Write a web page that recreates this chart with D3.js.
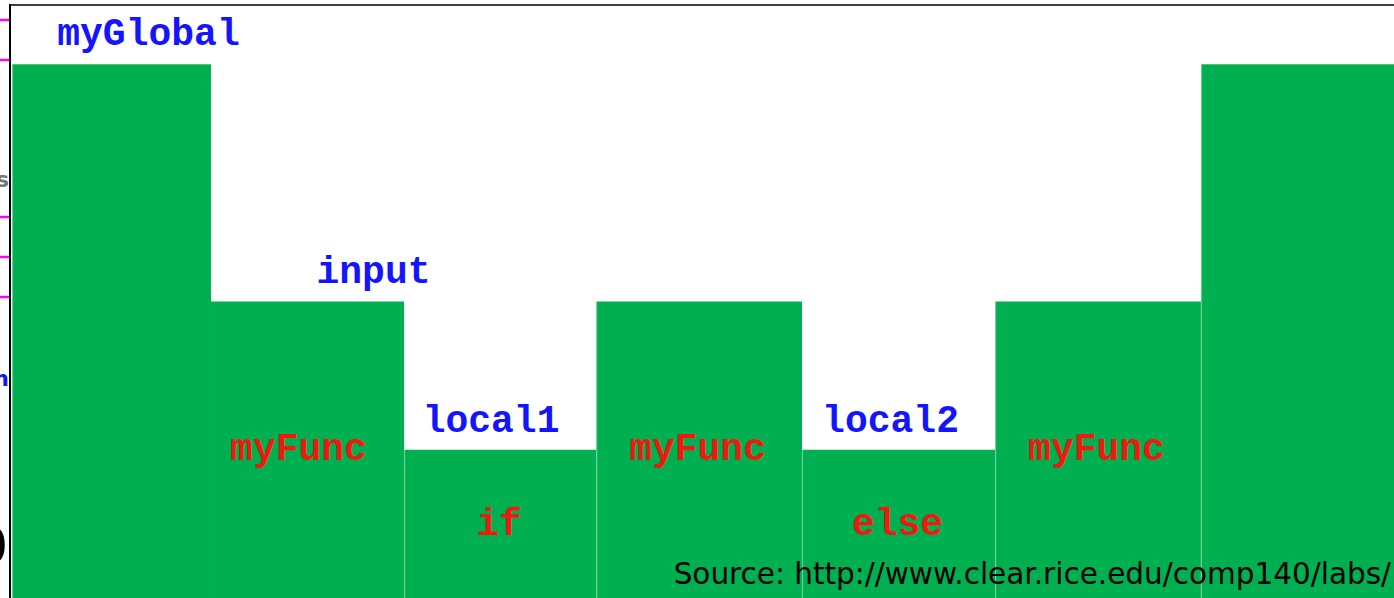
<!DOCTYPE html>
<html>
<head>
    <meta charset="utf-8">
    <script src="https://d3js.org/d3.v7.min.js"></script>
    <style>
        body { margin: 0; background: #fff; overflow: hidden; }
        svg { display: block; }
    </style>
</head>
<body>
    <svg id="chart"></svg>

    <script>
        // Scope blocks, left to right (nesting depth drawn as bar height)
        const columns = ["global", "myFunc", "if", "myFunc", "else", "myFunc", "global"];
        const colWidths = [1.01, 0.98, 0.975, 1.045, 0.98, 1.045, 0.98];
        const levels = [9, 5, 2.5, 5, 2.5, 5, 9];

        // Variable names (blue) and scope names (red)
        const labelText = ["myGlobal", "input", "myFunc", "local1", "if", "myFunc", "local2", "else", "myFunc"];
        const labelCol = [0, 1, 1, 2, 2, 3, 4, 4, 5];
        const labelLevel = [9.33, 5.31, 2.33, 2.8, 1.07, 2.33, 2.8, 1.07, 2.33];
        const labelKind = ["var", "var", "scope", "var", "scope", "scope", "var", "scope", "scope"];

        // leftover marks from the cropped picture on the far left
        const edgeTicks = [20, 60, 217, 257, 297];

        const sourceNote = "Source: http://www.clear.rice.edu/comp140/labs/";

        const width = 1394;
        const height = 598;

        const svg = d3.select("#chart")
            .attr("width", width)
            .attr("height", height);

        // x: variable-width columns
        const edges = [0, ...d3.cumsum(colWidths)];
        const x = d3.scaleLinear()
            .domain([0, d3.sum(colWidths)])
            .range([12, width]);

        const y = d3.scaleLinear()
            .domain([0, 10])
            .range([height, 5]);

        const bars = columns.map((c, i) => ({ name: c, x0: edges[i], x1: edges[i + 1], v: levels[i] }));

        // Bars
        svg.append("g").selectAll("rect")
            .data(bars)
            .join("rect")
            .attr("x", d => x(d.x0))
            .attr("y", d => y(d.v))
            .attr("width", d => x(d.x1) - x(d.x0))
            .attr("height", d => y(0) - y(d.v))
            .attr("fill", "#00b050");

        // faint separators between blocks
        svg.append("g").selectAll("line")
            .data(bars.filter((d, i) => i !== 1))
            .join("line")
            .attr("x1", d => x(d.x0) + 0.5)
            .attr("x2", d => x(d.x0) + 0.5)
            .attr("y1", d => y(d.v))
            .attr("y2", height)
            .attr("stroke", "#ffffff")
            .attr("stroke-opacity", 0.4)
            .attr("stroke-width", 1.2);

        // Labels
        const dxByIndex = { 0: 37, 1: 66, 2: -9, 3: -9, 4: -1, 5: -1.5, 6: -8, 7: -1, 8: -1.5 };
        svg.append("g").selectAll("text")
            .data(labelText)
            .join("text")
            .attr("x", (d, i) => {
                const b = bars[labelCol[i]];
                return (x(b.x0) + x(b.x1)) / 2 + dxByIndex[i];
            })
            .attr("y", (d, i) => y(labelLevel[i]))
            .attr("text-anchor", "middle")
            .style("font-family", "'Courier New', 'Liberation Mono', monospace")
            .style("font-weight", "bold")
            .style("font-size", "38px")
            .style("fill", (d, i) => labelKind[i] === "var" ? "#1414ff" : "#ee1a10")
            .text(d => d);

        // Frame
        svg.append("line")
            .attr("x1", 10).attr("x2", 10)
            .attr("y1", 4).attr("y2", height)
            .attr("stroke", "#000").attr("stroke-width", 2);
        svg.append("line")
            .attr("x1", 9).attr("x2", width)
            .attr("y1", 5).attr("y2", 5)
            .attr("stroke", "#000").attr("stroke-width", 1.5);

        // left edge remnants
        svg.append("g").selectAll("line")
            .data(edgeTicks)
            .join("line")
            .attr("x1", 0).attr("x2", 9)
            .attr("y1", d => d).attr("y2", d => d)
            .attr("stroke", "#ff00ff").attr("stroke-width", 2.5);

        svg.append("text")
            .attr("x", 9).attr("y", 187)
            .attr("text-anchor", "end")
            .style("font-family", "'DejaVu Sans', sans-serif")
            .style("font-weight", "bold")
            .style("font-size", "22px")
            .style("fill", "#777")
            .text("s");

        svg.append("text")
            .attr("x", 9).attr("y", 386)
            .attr("text-anchor", "end")
            .style("font-family", "'DejaVu Sans', sans-serif")
            .style("font-weight", "bold")
            .style("font-size", "22px")
            .style("fill", "#1414ff")
            .text("m");

        svg.append("text")
            .attr("x", 8).attr("y", 563)
            .attr("text-anchor", "end")
            .style("font-family", "'DejaVu Sans', sans-serif")
            .style("font-size", "50px")
            .style("fill", "#000")
            .text("0");

        // Source note
        svg.append("text")
            .attr("x", 1391).attr("y", 584)
            .attr("text-anchor", "end")
            .style("font-family", "'DejaVu Sans', sans-serif")
            .style("font-size", "29.5px")
            .style("fill", "#000")
            .text(sourceNote);
    </script>
</body>
</html>
